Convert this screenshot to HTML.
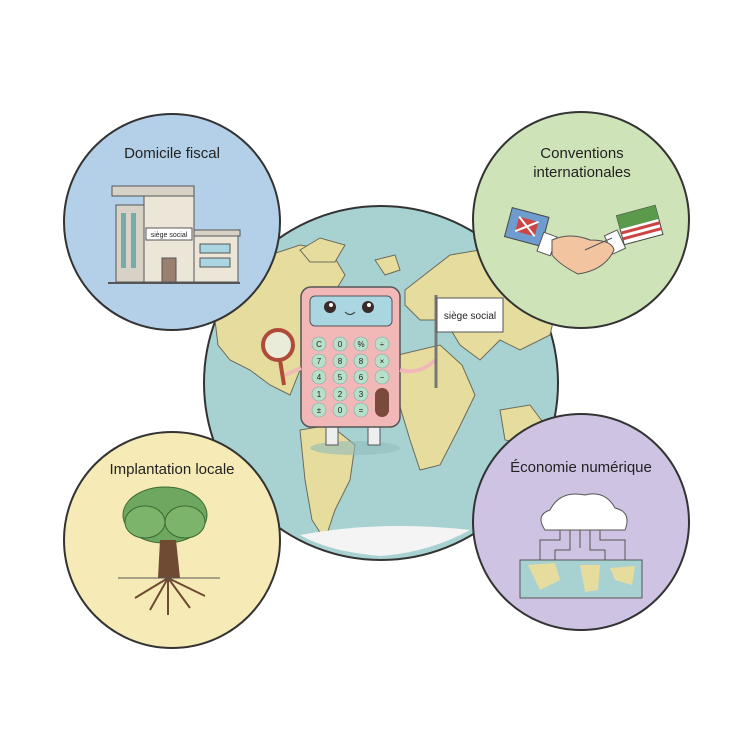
<!DOCTYPE html>
<html><head><meta charset="utf-8"><style>
html,body{margin:0;padding:0;background:#fff;}
svg{display:block;}
text{font-family:"Liberation Sans",sans-serif;fill:#222;}
</style></head><body>
<svg width="756" height="756" viewBox="0 0 756 756" xmlns="http://www.w3.org/2000/svg">
<rect width="756" height="756" fill="#fff"/>
<!-- globe -->
<circle cx="381" cy="383" r="177" fill="#a8d2d2" stroke="#333" stroke-width="2"/>
<g fill="#e6dc9e" stroke="#6b6b5a" stroke-width="1">
<path d="M215 320 L240 280 L270 255 L300 245 L330 250 L345 275 L330 300 L310 330 L300 370 L290 395 L270 385 L250 370 L230 360 L218 345 Z"/>
<path d="M300 250 L320 238 L345 245 L335 262 L310 262 Z"/>
<path d="M300 430 L330 425 L355 445 L350 480 L335 510 L325 540 L312 520 L305 480 Z"/>
<path d="M405 290 L450 255 L510 245 L545 260 L558 300 L550 335 L520 350 L500 340 L480 360 L460 345 L445 320 L420 320 L405 305 Z"/>
<path d="M398 355 L440 345 L462 365 L475 395 L458 430 L440 465 L420 470 L410 440 L398 400 Z"/>
<path d="M500 410 L530 405 L545 425 L530 445 L505 440 Z"/>
<path d="M375 260 L395 255 L400 270 L385 275 Z"/>
</g>
<path d="M300 535 Q380 520 470 530 Q430 552 381 556 Q330 552 300 535 Z" fill="#f4f4f4"/>
<!-- calculator -->
<ellipse cx="355" cy="448" rx="45" ry="7" fill="#8fbcbc" opacity="0.6"/>
<rect x="326" y="420" width="12" height="25" fill="#eee" stroke="#555"/>
<rect x="368" y="420" width="12" height="25" fill="#eee" stroke="#555"/>
<rect x="301" y="287" width="99" height="140" rx="10" fill="#f2b8b8" stroke="#555" stroke-width="1.5"/>
<rect x="310" y="296" width="82" height="30" rx="5" fill="#a9d6e0" stroke="#555"/>
<circle cx="330" cy="307" r="6" fill="#3a2a2a"/><circle cx="368" cy="307" r="6" fill="#3a2a2a"/>
<circle cx="331" cy="305" r="2" fill="#fff"/><circle cx="369" cy="305" r="2" fill="#fff"/>
<path d="M345 312 Q350 317 355 312" stroke="#333" fill="none"/>
<g fill="#b8e0c9" stroke="#7aa" stroke-width="0.6">
<circle cx="319" cy="344" r="7"/><circle cx="340" cy="344" r="7"/><circle cx="361" cy="344" r="7"/><circle cx="382" cy="344" r="7"/>
<circle cx="319" cy="361" r="7"/><circle cx="340" cy="361" r="7"/><circle cx="361" cy="361" r="7"/><circle cx="382" cy="361" r="7"/>
<circle cx="319" cy="377" r="7"/><circle cx="340" cy="377" r="7"/><circle cx="361" cy="377" r="7"/><circle cx="382" cy="377" r="7"/>
<circle cx="319" cy="394" r="7"/><circle cx="340" cy="394" r="7"/><circle cx="361" cy="394" r="7"/>
<circle cx="319" cy="410" r="7"/><circle cx="340" cy="410" r="7"/><circle cx="361" cy="410" r="7"/>
</g>
<rect x="375" y="388" width="14" height="29" rx="7" fill="#7a4a3a"/>
<g font-size="8" text-anchor="middle" fill="#555">
<text x="319" y="347">C</text><text x="340" y="347">0</text><text x="361" y="347">%</text><text x="382" y="347">÷</text>
<text x="319" y="364">7</text><text x="340" y="364">8</text><text x="361" y="364">8</text><text x="382" y="364">×</text>
<text x="319" y="380">4</text><text x="340" y="380">5</text><text x="361" y="380">6</text><text x="382" y="380">−</text>
<text x="319" y="397">1</text><text x="340" y="397">2</text><text x="361" y="397">3</text>
<text x="319" y="413">±</text><text x="340" y="413">0</text><text x="361" y="413">=</text>
</g>
<path d="M301 368 L285 375" stroke="#f2b8b8" stroke-width="4"/>
<circle cx="278" cy="345" r="15" fill="#e8ecd8" stroke="#b04a3a" stroke-width="4"/>
<path d="M280 360 L284 385" stroke="#b04a3a" stroke-width="4"/>
<path d="M400 370 Q420 375 435 360" stroke="#f2b8b8" stroke-width="4" fill="none"/>
<line x1="436" y1="295" x2="436" y2="388" stroke="#777" stroke-width="3"/>
<rect x="437" y="298" width="66" height="34" fill="#fff" stroke="#555"/>
<text x="470" y="319" font-size="10" text-anchor="middle">siège social</text>
<!-- top-left -->
<circle cx="172" cy="222" r="108" fill="#b4d0e8" stroke="#333" stroke-width="2"/>
<text x="172" y="158" font-size="15" text-anchor="middle">Domicile fiscal</text>
<rect x="116" y="205" width="28" height="77" fill="#d8d2c6" stroke="#555"/>
<rect x="144" y="190" width="50" height="92" fill="#ece6d8" stroke="#555"/>
<rect x="112" y="186" width="82" height="10" fill="#d8d2c6" stroke="#555"/>
<rect x="194" y="232" width="44" height="50" fill="#ece6d8" stroke="#555"/>
<rect x="194" y="230" width="46" height="6" fill="#d8d2c6" stroke="#555"/>
<rect x="200" y="244" width="30" height="9" fill="#a9d6e0" stroke="#555"/>
<rect x="200" y="258" width="30" height="9" fill="#a9d6e0" stroke="#555"/>
<rect x="121" y="213" width="5" height="55" fill="#7aa"/><rect x="131" y="213" width="5" height="55" fill="#7aa"/>
<rect x="146" y="228" width="46" height="12" fill="#fff" stroke="#555"/>
<text x="169" y="237" font-size="7" text-anchor="middle">siège social</text>
<rect x="162" y="258" width="14" height="24" fill="#9a8070" stroke="#555"/>
<line x1="108" y1="283" x2="240" y2="283" stroke="#555" stroke-width="2"/>
<!-- top-right -->
<circle cx="581" cy="220" r="108" fill="#cfe3b8" stroke="#333" stroke-width="2"/>
<text x="582" y="158" font-size="15" text-anchor="middle">Conventions</text>
<text x="582" y="177" font-size="15" text-anchor="middle">internationales</text>
<g transform="rotate(15 527 226)"><rect x="508" y="212" width="38" height="30" fill="#6f9ccf" stroke="#444"/><rect x="517" y="219" width="20" height="15" fill="#c44" /><path d="M517 219 L537 234 M537 219 L517 234" stroke="#fff" stroke-width="2"/></g>
<g transform="rotate(-15 640 226)"><rect x="620" y="210" width="40" height="30" fill="#fff" stroke="#444"/><rect x="620" y="210" width="40" height="14" fill="#5a9a4a"/><path d="M620 228 H660 M620 234 H660" stroke="#c44" stroke-width="3"/></g>
<rect x="540" y="234" width="14" height="20" fill="#fff" stroke="#555" transform="rotate(20 547 244)"/>
<rect x="608" y="232" width="14" height="20" fill="#fff" stroke="#555" transform="rotate(-25 615 242)"/>
<path d="M552 240 Q570 232 590 240 Q612 240 614 250 Q605 270 578 274 Q560 265 552 255 Z" fill="#f2c4a0" stroke="#555"/>
<path d="M612 238 Q598 244 585 250" stroke="#555" fill="none"/>
<!-- bottom-left -->
<circle cx="172" cy="540" r="108" fill="#f6ebb6" stroke="#333" stroke-width="2"/>
<text x="172" y="474" font-size="15" text-anchor="middle">Implantation locale</text>
<ellipse cx="165" cy="515" rx="42" ry="28" fill="#6ea860" stroke="#3c6a34"/>
<ellipse cx="145" cy="522" rx="20" ry="16" fill="#7bb46a" stroke="#3c6a34"/>
<ellipse cx="185" cy="522" rx="20" ry="16" fill="#7bb46a" stroke="#3c6a34"/>
<path d="M160 540 L158 578 L180 578 L176 540 Z" fill="#6e4b32"/>
<path d="M168 578 L150 610 M168 578 L168 615 M168 578 L190 608 M168 578 L135 598 M168 578 L205 596" stroke="#6e4b32" stroke-width="2" fill="none"/>
<line x1="118" y1="578" x2="220" y2="578" stroke="#555"/>
<!-- bottom-right -->
<circle cx="581" cy="522" r="108" fill="#cfc3e3" stroke="#333" stroke-width="2"/>
<text x="581" y="472" font-size="15" text-anchor="middle">Économie numérique</text>
<path d="M545 530 Q535 515 550 510 Q560 490 585 495 Q605 490 615 508 Q632 512 625 530 Z" fill="#fff" stroke="#555"/>
<path d="M580 530 V548 M560 530 V540 H540 V560 M600 530 V540 H625 V560 M570 530 V550 H555 V560 M590 530 V550 H605 V560" stroke="#555" fill="none"/>
<rect x="520" y="560" width="122" height="38" fill="#a8d2d2" stroke="#555"/>
<path d="M528 565 L555 563 L560 580 L540 590 Z M580 565 L600 565 L598 590 L585 592 Z M610 568 L635 566 L632 585 L615 580 Z" fill="#e6dc9e"/>
</svg>
</body></html>
